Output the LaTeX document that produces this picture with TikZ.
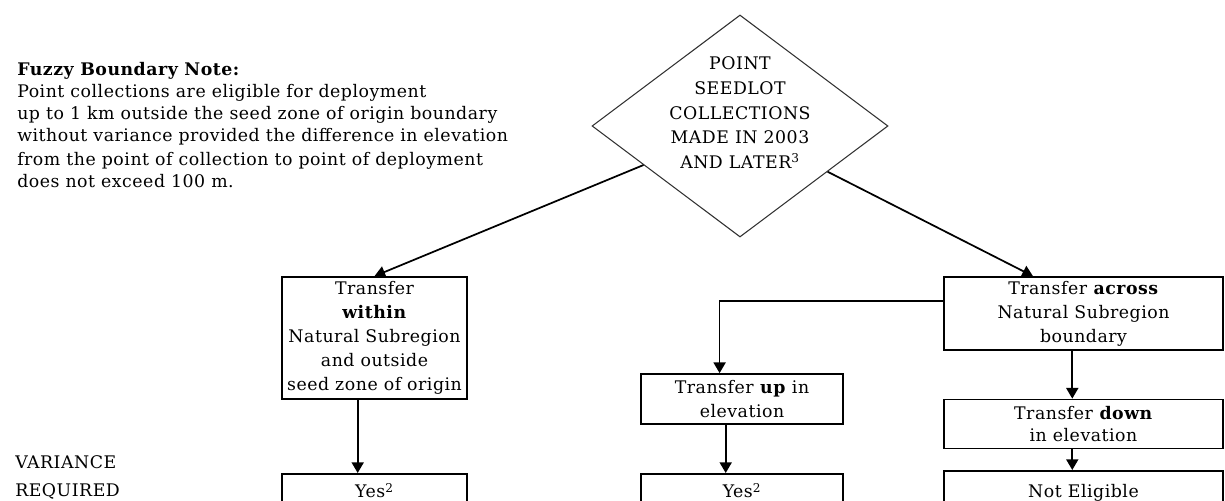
\documentclass[tikz,border=0pt]{standalone}
\usepackage{fontspec}
\setmainfont[LetterSpace=3]{DejaVu Serif}
\usetikzlibrary{arrows.meta,calc,shapes.geometric}

\begin{document}
\begin{tikzpicture}[x=0.75pt, y=-0.75pt,
    font=\fontsize{13}{18}\selectfont,
    flowbox/.style={draw, line width=1.3pt, inner sep=0pt, align=center},
    flowarrow/.style={line width=1.3pt, -{Triangle[width=9pt,length=8pt]}}]
			%%%%% START %%%%%
			\useasboundingbox (0,0) rectangle (1225,500);
			\clip (0,0) rectangle (1225,500);
			
			% note at the top left
			\node[anchor=north west, align=left, inner sep=0pt, font=\fontsize{13}{16.5}\selectfont] (note) at (17,62)
			{\textbf{Fuzzy Boundary Note:}\\
			 Point collections are eligible for deployment\\
			 up to 1 km outside the seed zone of origin boundary\\
			 without variance provided the difference in elevation\\[1.5pt]
			 from the point of collection to point of deployment\\
			 does not exceed 100 m.};
			
			% decision
			\node[draw, shape=diamond, line width=0.8pt, color=black!80, inner sep=0pt,
			      minimum width=222pt, minimum height=166.5pt] (seedlot) at (740,126) {};
			\node[align=center, font=\fontsize{13}{18.5}\selectfont] (seedlottext) at (740,113)
			{POINT\\ SEEDLOT\\ COLLECTIONS\\ MADE IN 2003\\ AND LATER\textsuperscript{3}};
			
			% transfers
			\node[flowbox, minimum width=138.75pt, minimum height=91.5pt] (within) at (374.5,338)
			{Transfer\\ \textbf{within}\\ Natural Subregion\\ and outside\\ seed zone of origin};
			\node[flowbox, minimum width=209.25pt, minimum height=54.75pt] (across) at (1083.5,313.5)
			{Transfer \textbf{across}\\ Natural Subregion\\ boundary};
			\node[flowbox, minimum width=151.5pt, minimum height=37.5pt] (up) at (742,399)
			{Transfer \textbf{up} in\\ elevation};
			\node[flowbox, minimum width=209.25pt, minimum height=36.75pt, font=\fontsize{13}{16.5}\selectfont] (down) at (1083.5,424)
			{Transfer \textbf{down}\\ in elevation};
			
			% results, cut off by the page
			\node[flowbox, anchor=north, minimum width=138.75pt, text height=18pt, text depth=20pt] (yeswithin) at (374.5,473) {Yes\textsuperscript{2}};
			\node[flowbox, anchor=north, minimum width=151.5pt, text height=18pt, text depth=20pt] (yesup) at (742,473) {Yes\textsuperscript{2}};
			\node[flowbox, anchor=north, minimum width=209.25pt, text height=20pt, text depth=20pt] (noteligible) at (1083.5,470) {Not Eligible};
			
			\node[anchor=west, align=left, inner sep=0pt, font=\fontsize{13}{21}\selectfont] (variance) at (15,477)
			{VARIANCE\\ REQUIRED};
			
			% connectors
			\draw[flowarrow] ($(seedlot.west)!0.35!(seedlot.south)$) -- (within.north);
			\draw[flowarrow] ($(seedlot.east)!0.41!(seedlot.south)$) -- ($(across.north west)!0.32!(across.north east)$);
			\draw[flowarrow] ($(across.north west)!0.33!(across.south west)$) -| ($(up.north west)!0.39!(up.north east)$);
			
			\draw[flowarrow] ($(within.south west)!0.41!(within.south east)$) -- ($(yeswithin.north west)!0.41!(yeswithin.north east)$);
			\draw[flowarrow] ($(up.south west)!0.42!(up.south east)$) -- ($(yesup.north west)!0.42!(yesup.north east)$);
			\draw[flowarrow] ($(across.south west)!0.46!(across.south east)$) -- ($(down.north west)!0.46!(down.north east)$);
			\draw[flowarrow] ($(down.south west)!0.46!(down.south east)$) -- ($(noteligible.north west)!0.46!(noteligible.north east)$);
			
			%%%%% END %%%%%
		\end{tikzpicture}
\end{document}
